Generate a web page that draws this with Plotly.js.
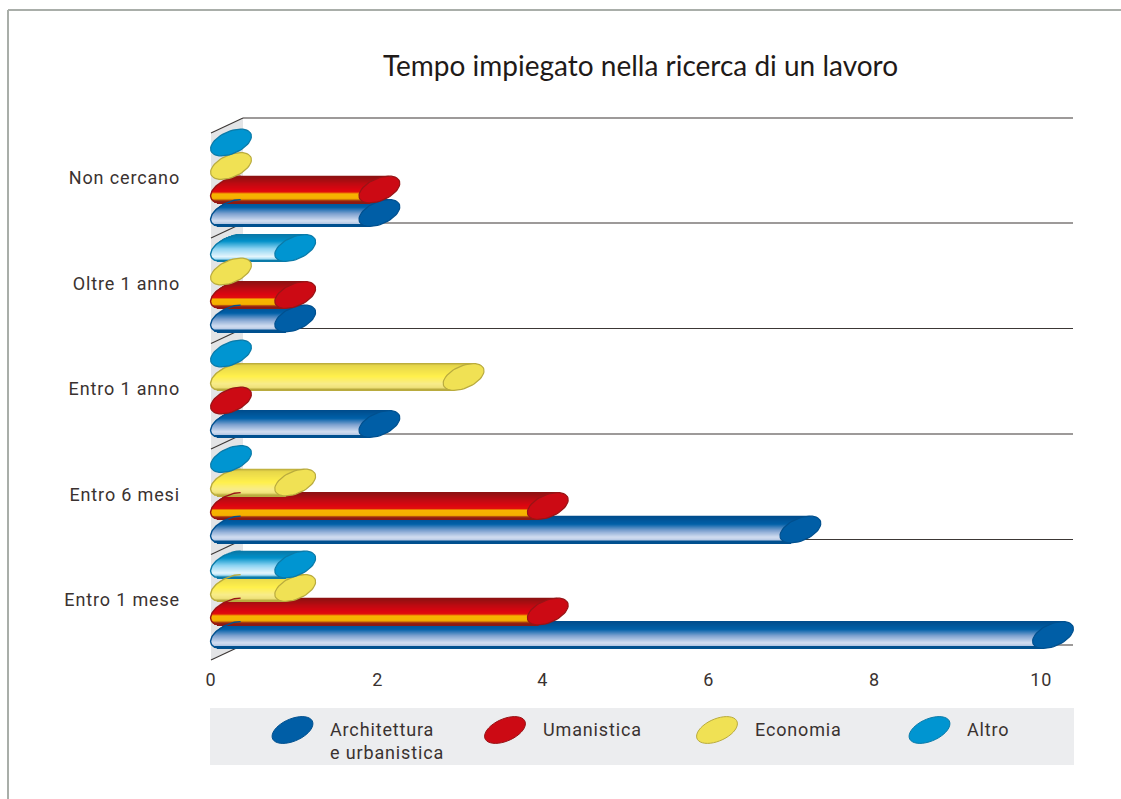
<!DOCTYPE html>
<html><head><meta charset="utf-8">
<script src="https://cdn.plot.ly/plotly-3.0.1.min.js"></script>
<style>html,body{margin:0;padding:0;background:#fff}#c{width:1121px;height:799px}
.xtick text,.ytick text,.annotation-text{letter-spacing:.85px}</style>
</head><body><div id="c"></div>
<script>
// ---- data ----
var categories = ['Entro 1 mese','Entro 6 mesi','Entro 1 anno','Oltre 1 anno','Non cercano'];
var architettura = [10,7,2,1,2];
var umanistica   = [4,4,0,1,2];
var economia     = [1,1,3,0,0];
var altro        = [1,0,0,1,0];
var xTickLabels  = ['0','2','4','6','8','10'];
var xTickPositions = [0,1.98,3.94,5.91,7.88,9.86];
var chartTitle = 'Tempo impiegato nella ricerca di un lavoro';

// ---- geometry (pixels) ----
var W=1121,H=799, L=205,R=1080,T=100,B=665;
var x0px=211, pxPerUnit=84.2, y0px=600, pxPerCat=105.5;
function xv(px){return (px-x0px)/pxPerUnit;}
function yv(px){return (y0px-px)/pxPerCat;}
function dy(px){return px/pxPerCat;}
function dx(px){return px/pxPerUnit;}
var capH=13.4, capHalf=18, capK=0.72; // half height, half chord, shear
var minCenter=xv(231);

function chord(d){var r=1-(d*d)/(capH*capH);return capHalf*Math.sqrt(Math.max(r,0));}
function hex(c){return [parseInt(c.substr(1,2),16),parseInt(c.substr(3,2),16),parseInt(c.substr(5,2),16)];}
function ramp(stops,t){
  for(var i=1;i<stops.length;i++){ if(t<=stops[i][0]){
    var a=stops[i-1],b=stops[i],f=(t-a[0])/Math.max(b[0]-a[0],1e-6),p=hex(a[1]),q=hex(b[1]);
    return 'rgb('+Math.round(p[0]+(q[0]-p[0])*f)+','+Math.round(p[1]+(q[1]-p[1])*f)+','+Math.round(p[2]+(q[2]-p[2])*f)+')';
  }}
  return stops[stops.length-1][1];
}
var series=[
 {name:'Architettura e urbanistica',vals:architettura,off:35,cap:'#005ea6',edge:'#00508f',
  stops:[[0,'#004c8c'],[.3,'#0060a8'],[.55,'#7fa2d0'],[.82,'#d3def1'],[.93,'#b4c8e4'],[.96,'#00508f'],[1,'#00508f']]},
 {name:'Umanistica',vals:umanistica,off:11.5,cap:'#cc0a14',edge:'#981416',
  stops:[[0,'#8c1212'],[.3,'#c00a12'],[.5,'#dc0510'],[.62,'#e0100c'],[.68,'#f7b400'],[.88,'#f5b000'],[.94,'#a03010'],[1,'#8c1a12']]},
 {name:'Economia',vals:economia,off:-12,cap:'#f0e154',edge:'#b9ab3e',
  stops:[[0,'#bdae3c'],[.08,'#e6d64a'],[.5,'#fff04c'],[.78,'#f8ec8a'],[.92,'#efe27a'],[1,'#b9ab3e']]},
 {name:'Altro',vals:altro,off:-35.5,cap:'#0095d1',edge:'#0a7aa8',
  stops:[[0,'#0a78a8'],[.25,'#0090c8'],[.55,'#8ed4f2'],[.85,'#e4f5fc'],[.94,'#a8def4'],[1,'#0a7aa8']]}
];

var traces=[];
// cylinder bodies: one bar trace per series, built as thin rows so the shading is visible
series.forEach(function(s){
  var ys=[],xs=[],bases=[],cols=[],ws=[];
  s.vals.forEach(function(v,i){
    if(v<=0) return;
    for(var r=0;r<27;r++){
      var d=capH-(r+0.5)*(2*capH/27);   // up from centre, px
      var leftPx=231+capK*d-chord(d);
      var b=xv(leftPx), e=v+dx(capK*d);
      ys.push(i-dy(s.off-d));
      bases.push(b); xs.push(e-b);
      cols.push(ramp(s.stops,r/26));
      ws.push(dy(1.7));
    }
  });
  traces.push({type:'bar',orientation:'h',name:s.name,y:ys,x:xs,base:bases,width:ws,opacity:1,
    marker:{color:cols,opacity:1,line:{width:0}},hoverinfo:'skip',showlegend:false});
});
// left rims and end caps
function ell(cx,cy,part){ // cx,cy in data units; returns arrays
  var px=[],py=[],n=48;
  for(var k=0;k<=n;k++){
    var t=(part? Math.PI/2+Math.PI*k/n : 2*Math.PI*k/n);
    var d=capH*Math.sin(t);
    var off=capK*d+capHalf*Math.cos(t);
    px.push(cx+dx(off)); py.push(cy+dy(d));
  }
  return [px,py];
}
series.forEach(function(s){
  var rx=[],ry=[];
  s.vals.forEach(function(v,i){
    if(v<=0) return;
    var e=ell(minCenter,i-dy(s.off),true);
    rx=rx.concat(e[0],[null]); ry=ry.concat(e[1],[null]);
  });
  traces.push({type:'scatter',mode:'lines',x:rx,y:ry,line:{color:s.edge,width:1.4},hoverinfo:'skip',showlegend:false});
});
series.forEach(function(s){
  var cx=[],cy=[];
  s.vals.forEach(function(v,i){
    var e=ell(Math.max(v,minCenter),i-dy(s.off),false);
    cx=cx.concat(e[0],[null]); cy=cy.concat(e[1],[null]);
  });
  traces.push({type:'scatter',mode:'lines',x:cx,y:cy,fill:'toself',fillcolor:s.cap,
    line:{color:s.edge,width:1.2},hoverinfo:'skip',showlegend:false,name:s.name});
});

// frame, wall, grid
var shapes=[];
function pxX(p){return (p-L)/(R-L);} function pxY(p){return (B-p)/(B-T);}
shapes.push({type:'line',xref:'paper',yref:'paper',x0:pxX(8),x1:pxX(8),y0:pxY(10),y1:pxY(799),line:{color:'#a9aea9',width:2},layer:'below'});
shapes.push({type:'line',xref:'paper',yref:'paper',x0:pxX(8),x1:pxX(1121),y0:pxY(10),y1:pxY(10),line:{color:'#a9aea9',width:2},layer:'below'});
shapes.push({type:'rect',xref:'paper',yref:'paper',x0:pxX(210),x1:pxX(1074),y0:pxY(708),y1:pxY(765),
  fillcolor:'#ecedef',line:{width:0},layer:'below'});
shapes.push({type:'path',xref:'paper',yref:'paper',layer:'below',fillcolor:'#e3e4e6',line:{width:0},
  path:'M'+pxX(211)+','+pxY(133)+' L'+pxX(243)+','+pxY(118)+' L'+pxX(243)+','+pxY(645)+' L'+pxX(211)+','+pxY(660)+' Z'});
var gridPx=[118,223,328.5,434,539.5,645];
gridPx.forEach(function(g){
  shapes.push({type:'line',xref:'x',yref:'y',layer:'below',x0:xv(243),x1:xv(1073),y0:yv(g),y1:yv(g),line:{color:'#3c3735',width:1.1}});
  shapes.push({type:'line',xref:'x',yref:'y',layer:'below',x0:xv(211),x1:xv(243),y0:yv(g+15),y1:yv(g),line:{color:'#3c3735',width:1.1}});
});

// legend
var legendX=[292.5,505,717,929.5], legendTextX=[329,542,754,966], legendTexts=['Architettura<br>e urbanistica','Umanistica','Economia','Altro'];
var ann=[];
series.forEach(function(s,i){
  var p='',n=40;
  for(var k=0;k<n;k++){
    var t=2*Math.PI*k/n,d=capH*Math.sin(t),o=capK*d+capHalf*Math.cos(t);
    p+=(k?'L':'M')+pxX(legendX[i]+o)+','+pxY(730-d)+' ';
  }
  shapes.push({type:'path',xref:'paper',yref:'paper',path:p+'Z',fillcolor:s.cap,line:{color:s.edge,width:1}});
  ann.push({xref:'paper',yref:'paper',x:pxX(legendTextX[i]),y:pxY(717.5),xanchor:'left',yanchor:'top',align:'left',showarrow:false,
    text:legendTexts[i],font:{family:'Roboto, sans-serif',size:18,color:'#3a3230'},borderpad:0});
});

var layout={width:W,height:H,paper_bgcolor:'#fff',plot_bgcolor:'rgba(0,0,0,0)',
  margin:{l:L,r:W-R,t:T,b:H-B,pad:0},
  barmode:'overlay',showlegend:false,
  title:{text:chartTitle,x:640.5/W,xref:'container',xanchor:'center',y:1-66/H,yref:'container',yanchor:'middle',
    font:{family:'Lato, sans-serif',size:28,color:'#1f1a18'}},
  xaxis:{range:[xv(L),xv(R)],tickmode:'array',tickvals:xTickPositions,ticktext:xTickLabels,showgrid:false,zeroline:false,showline:false,
    ticks:'',ticklabelstandoff:2,tickfont:{family:'Roboto, sans-serif',size:18,color:'#3a3230'}},
  yaxis:{range:[yv(B),yv(T)],tickmode:'array',tickvals:categories.map(function(c,i){return i;}),ticktext:categories,showgrid:false,zeroline:false,showline:false,
    ticks:'',ticklabelstandoff:24,tickfont:{family:'Roboto, sans-serif',size:18,color:'#3a3230'}},
  shapes:shapes,annotations:ann};
Plotly.newPlot('c',traces,layout,{displayModeBar:false});
</script></body></html>
